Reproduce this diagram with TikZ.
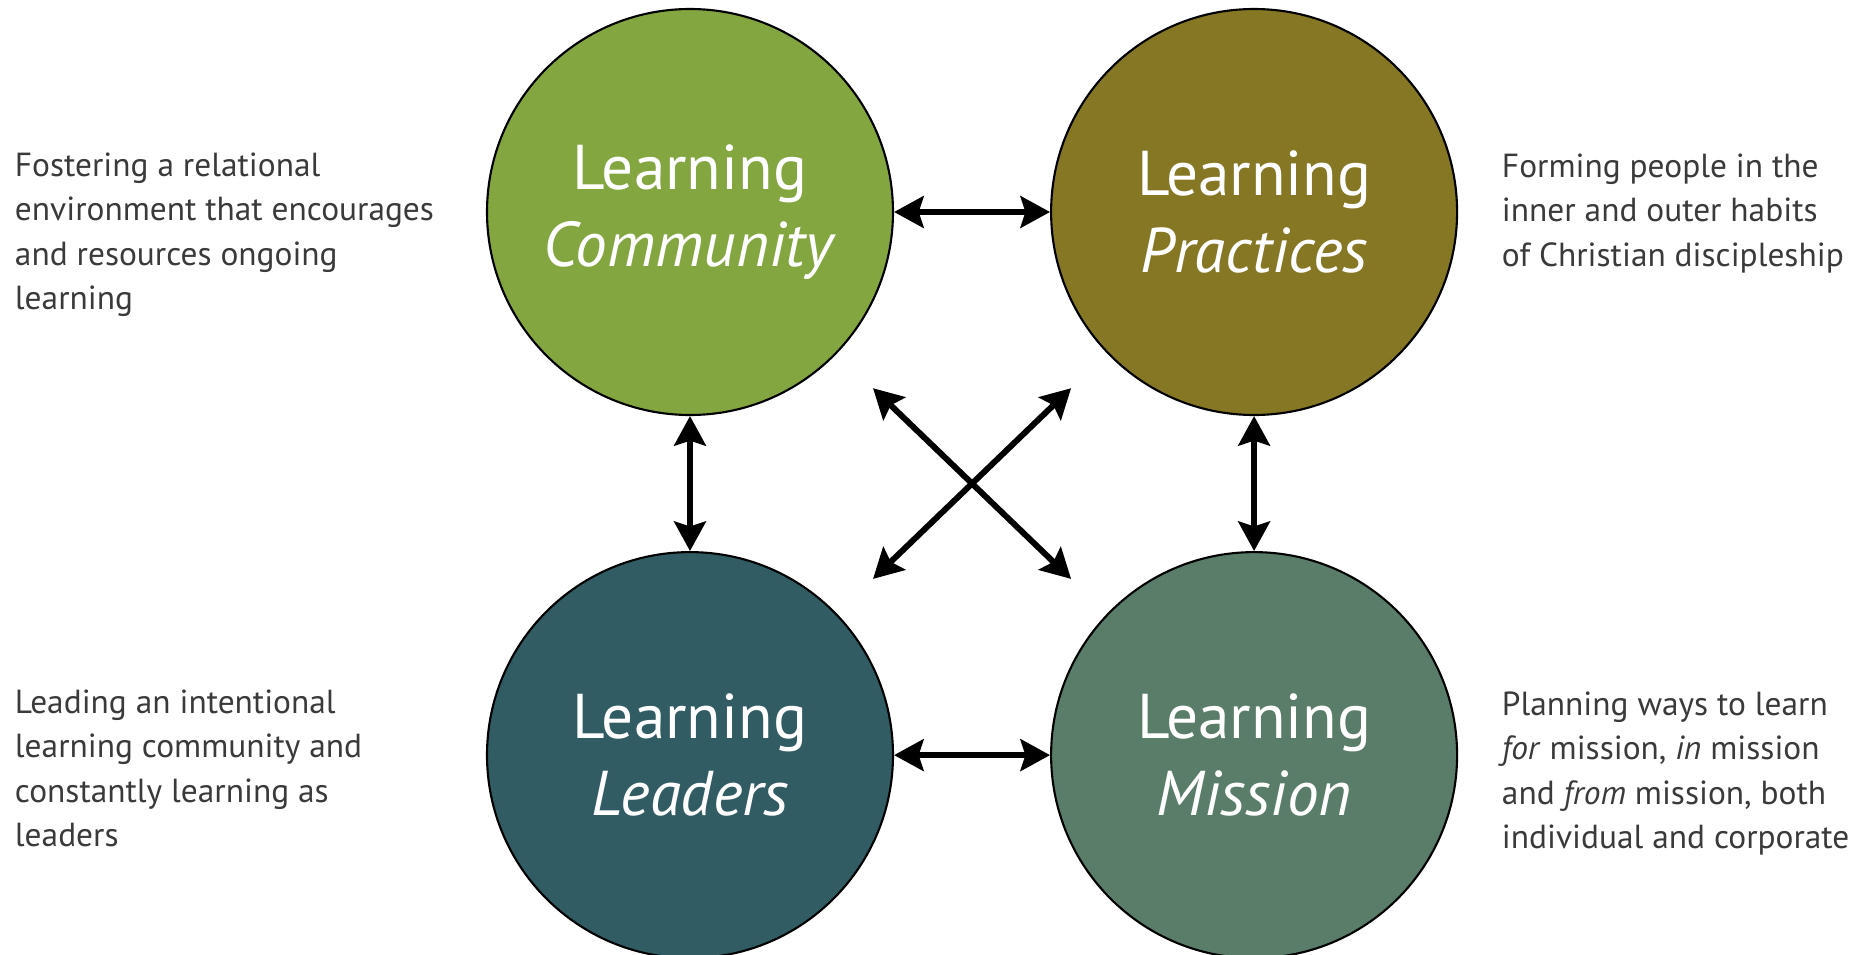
\documentclass[tikz,border=0pt]{standalone}
\usepackage{fontspec}
\setmainfont{PT Sans}
\usepackage{tikz}
\usetikzlibrary{positioning,arrows.meta}

\definecolor{commgreen}{HTML}{84A640}
\definecolor{pracolive}{HTML}{857723}
\definecolor{leadteal}{HTML}{325C63}
\definecolor{misssage}{HTML}{5A7D69}
\definecolor{sidegray}{HTML}{3A3A3A}

\begin{document}
\begin{tikzpicture}[%
    <->,
    >={Stealth[length=8.4pt,width=9pt,inset=1.4pt]},
    line width=1.7pt,
    node distance=1.35cm and 1.56cm,
    learn/.style={%
      circle,
      minimum size=4.06cm,
      inner sep=0pt,
      draw=black,
      line width=0.6pt,
      text=white,
      align=center,
      font=\fontsize{18}{21.8}\selectfont
    },
    side/.style={%
      anchor=north west,
      inner sep=0pt,
      align=left,
      text=sidegray,
      font=\fontsize{9.5}{12.6}\selectfont
    }
  ]
    \useasboundingbox (0,0) rectangle (18.72,-9.55);

    \node[learn,fill=commgreen] (1) at (6.90,-2.12) {Learning\\\textit{Community}};
    \node[learn,fill=pracolive] (2) [right=of 1]     {Learning\\\textit{Practices}};
    \node[learn,fill=leadteal]  (3) [below=of 1]     {Learning\\\textit{Leaders}};
    \node[learn,fill=misssage]  (4) [below=of 2]     {Learning\\\textit{Mission}};

    \node[side] (5) at (0.12,-1.50)  {Fostering a relational\\environment that encourages\\and resources ongoing\\learning};
    \node[side] (6) at (14.99,-1.51) {Forming people in the\\inner and outer habits\\of Christian discipleship};
    \node[side] (7) at (0.12,-6.87)  {Leading an intentional\\learning community and\\constantly learning as\\leaders};
    \node[side] (8) at (14.99,-6.89) {Planning ways to learn\\\textit{for} mission, \textit{in} mission\\and \textit{from} mission, both\\individual and corporate};

    \path (1) edge (2)
          (3) edge (4)
          (1) edge (3)
          (2) edge (4)
          (1) edge[shorten <=0.5cm,shorten >=0.5cm] (4)
          (2) edge[shorten <=0.5cm,shorten >=0.5cm] (3);
\end{tikzpicture}
\end{document}
